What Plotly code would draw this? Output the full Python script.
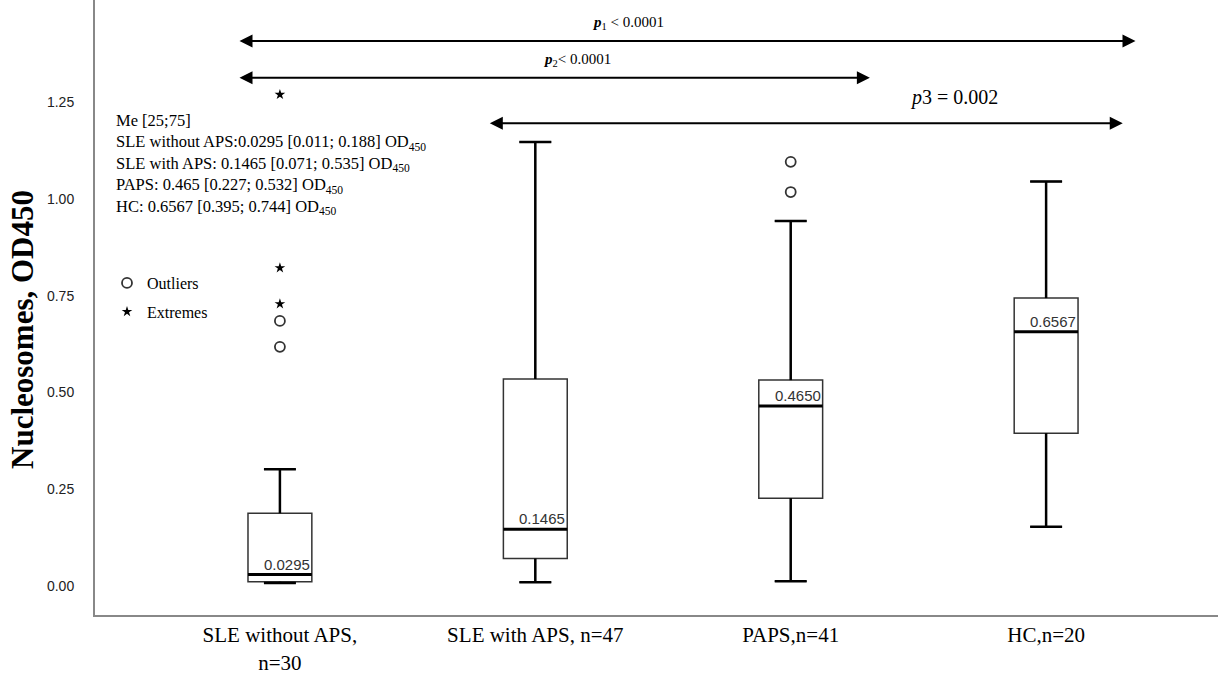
import plotly.graph_objects as go

# ---- data ----
categories = ["SLE without APS,<br>n=30", "SLE with APS, n=47", "PAPS,n=41", "HC,n=20"]
q1_vals = [0.011, 0.071, 0.227, 0.395]
median_vals = [0.0295, 0.1465, 0.465, 0.6567]
q3_vals = [0.188, 0.535, 0.532, 0.744]
lower_whisker = [0.008, 0.010, 0.012, 0.153]
upper_whisker = [0.302, 1.147, 0.943, 1.045]
median_labels = ["0.0295", "0.1465", "0.4650", "0.6567"]

outlier_group = [0, 0, 2, 2]
outlier_vals = [0.685, 0.618, 1.096, 1.018]
extreme_group = [0, 0, 0]
extreme_vals = [1.270, 0.822, 0.729]

# significance brackets (start, end in category units, height in OD450)
p_labels = ["<i><b>p</b></i><sub>1</sub> < 0.0001",
            "<i><b>p</b></i><sub>2</sub>< 0.0001",
            "<i>p</i>3 = 0.002"]
p_start = [-0.164, -0.164, 0.816]
p_end = [3.35, 2.31, 3.30]
p_y = [1.408, 1.313, 1.196]
p_label_x = [1.362, 1.162, 2.64]
p_label_y = [1.455, 1.359, 1.261]
p_label_size = [15, 15, 20]

summary_lines = [
    "Me [25;75]",
    "SLE without APS:0.0295 [0.011; 0.188] OD<sub>450</sub>",
    "SLE with APS: 0.1465 [0.071; 0.535] OD<sub>450</sub>",
    "PAPS: 0.465 [0.227; 0.532] OD<sub>450</sub>",
    "HC: 0.6567 [0.395; 0.744] OD<sub>450</sub>",
]
y_ticks = [0, 0.25, 0.5, 0.75, 1.0, 1.25]

BOX_W = 0.25
SERIF = "Liberation Serif"
SANS = "Liberation Sans"
xs = list(range(len(categories)))

fig = go.Figure()

fig.add_trace(go.Box(
    x=xs, q1=q1_vals, median=median_vals, q3=q3_vals,
    lowerfence=lower_whisker, upperfence=upper_whisker,
    width=BOX_W, whiskerwidth=0.5,
    fillcolor="white", line=dict(color="#333333", width=1.5),
    boxpoints=False, showlegend=False, hoverinfo="skip",
))

# thick whiskers
wx, wy = [], []
for i in xs:
    for a, b in ((q3_vals[i], upper_whisker[i]), (q1_vals[i], lower_whisker[i])):
        wx += [i, i, None, i - BOX_W / 4, i + BOX_W / 4, None]
        wy += [a, b, None, b, b, None]
fig.add_trace(go.Scatter(x=wx, y=wy, mode="lines",
                         line=dict(color="black", width=2.5),
                         showlegend=False, hoverinfo="skip"))

# thick medians
mx, my = [], []
for i in xs:
    mx += [i - BOX_W / 2, i + BOX_W / 2, None]
    my += [median_vals[i], median_vals[i], None]
fig.add_trace(go.Scatter(x=mx, y=my, mode="lines",
                         line=dict(color="black", width=3),
                         showlegend=False, hoverinfo="skip"))

fig.add_trace(go.Scatter(
    x=outlier_group, y=outlier_vals, mode="markers", name="Outliers",
    legendgroup="o",
    marker=dict(symbol="circle-open", size=10, color="#333333", line=dict(width=1.8)),
))
fig.add_trace(go.Scatter(
    x=extreme_group, y=extreme_vals, mode="markers", name="Extremes",
    legendgroup="e",
    marker=dict(symbol="star", size=8, color="black"),
))

annotations = []
# median labels
for i in xs:
    annotations.append(dict(
        x=i + BOX_W / 2, y=median_vals[i], xref="x", yref="y",
        text=median_labels[i], showarrow=False, xanchor="right", yanchor="bottom",
        yshift=0, font=dict(family=SANS, size=15, color="#333333"),
    ))
# brackets
for s, e, y in zip(p_start, p_end, p_y):
    annotations.append(dict(
        x=e, y=y, ax=s, ay=y, xref="x", yref="y", axref="x", ayref="y",
        text="", showarrow=True, arrowhead=2, arrowside="end+start",
        arrowsize=1.3, arrowwidth=2, arrowcolor="black", standoff=0, startstandoff=0,
    ))
for t, x, y, sz in zip(p_labels, p_label_x, p_label_y, p_label_size):
    annotations.append(dict(
        x=x, y=y, xref="x", yref="y", text=t, showarrow=False,
        font=dict(family=SERIF, size=sz, color="black"),
    ))
# summary text block
annotations.append(dict(
    x=(114 - 95) / 1123, y=1 - 109 / 615, xref="paper", yref="paper",
    xanchor="left", yanchor="top", align="left", showarrow=False,
    text="<br>".join(summary_lines),
    font=dict(family=SERIF, size=16.5, color="black"),
))
# y axis title
annotations.append(dict(
    x=(22 - 95) / 1123, y=1 - 330 / 615, xref="paper", yref="paper",
    xanchor="center", yanchor="middle", showarrow=False, textangle=-90,
    text="<b>Nucleosomes, OD450</b>",
    font=dict(family=SERIF, size=31, color="black"),
))

fig.update_layout(
    width=1218, height=675,
    margin=dict(l=95, r=0, t=0, b=60, autoexpand=False),
    plot_bgcolor="white", paper_bgcolor="white",
    annotations=annotations,
    showlegend=True,
    legend=dict(
        x=(107 - 95) / 1123, y=1 - 266 / 615, xanchor="left", yanchor="top",
        font=dict(family=SERIF, size=16, color="black"),
        bgcolor="rgba(0,0,0,0)", traceorder="grouped", tracegroupgap=5,
    ),
    xaxis=dict(
        range=[-0.724, 3.673], tickvals=xs, ticktext=categories,
        showgrid=False, zeroline=False, showline=True, linecolor="#888888", linewidth=2,
        ticks="", automargin=False,
        tickfont=dict(family=SERIF, size=21, color="black"),
    ),
    yaxis=dict(
        range=[-0.0749, 1.5142], tickvals=y_ticks, tickformat=".2f",
        showgrid=False, zeroline=False, showline=True, linecolor="#888888", linewidth=2,
        ticks="", ticklabelstandoff=16, automargin=False,
        tickfont=dict(family=SANS, size=14, color="#222222"),
    ),
)

fig.write_html("out.html")
